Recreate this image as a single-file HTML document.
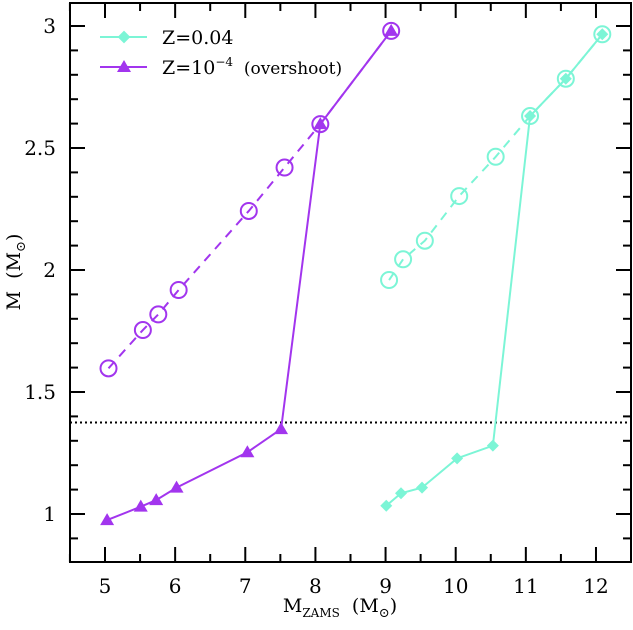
<!DOCTYPE html>
<html><head><meta charset="utf-8"><style>
html,body{margin:0;padding:0;background:#fff;}
svg{display:block;font-family:"DejaVu Serif","Liberation Serif",serif;}
</style></head><body>
<svg id="chart" width="633" height="630" viewBox="0 0 633 630" xmlns="http://www.w3.org/2000/svg">
<g id="axes"></g>
<g id="series"></g>
<g id="legend">
  <line x1="100" y1="37" x2="147" y2="37" stroke="#7cf5d6" stroke-width="2"/>
  <rect x="119.5" y="32.5" width="9" height="9" fill="#7cf5d6" transform="rotate(45 124 37)"/>
  <text x="162" y="44" font-size="19" fill="#000">Z=0.04</text>
  <line x1="100" y1="67" x2="147" y2="67" stroke="#a235ee" stroke-width="2"/>
  <polygon points="124,60 131,72 117,72" fill="#a235ee"/>
  <text x="162" y="74" font-size="19" fill="#000">Z=10<tspan font-size="12" dy="-8">−4</tspan><tspan dy="8" font-size="17" xml:space="preserve">  (overshoot)</tspan></text>
</g>
<text x="340" y="612" font-size="19" text-anchor="middle">M<tspan font-size="12" dy="5">ZAMS</tspan><tspan dy="-5" xml:space="preserve">  (M</tspan><tspan font-size="13" dy="5">⊙</tspan><tspan dy="-5">)</tspan></text>
<text x="0" y="0" font-size="19" text-anchor="middle" transform="translate(20,272) rotate(-90)">M <tspan xml:space="preserve"> (M</tspan><tspan font-size="13" dy="5">⊙</tspan><tspan dy="-5">)</tspan></text>
</svg>
<script>
const xTicks = [5,6,7,8,9,10,11,12];
const yTicks = [1,1.5,2,2.5,3];
const chandra = 1.375;
const hiX2 = [5.03,5.51,5.73,6.02,7.03,7.51,8.07,9.08];
const hiTri = [0.975,1.03,1.057,1.108,1.253,1.348,2.598,2.98];
const hiCircX = [5.05,5.54,5.76,6.05,7.05,7.56,8.07,9.08];
const hiCirc = [1.597,1.754,1.818,1.918,2.242,2.42,2.598,2.98];
const loDiaX = [9.01,9.22,9.52,10.02,10.53,11.06,11.57,12.09];
const loDia = [1.034,1.085,1.108,1.228,1.28,2.631,2.784,2.966];
const loCircX = [9.05,9.25,9.56,10.05,10.57,11.06,11.57,12.09];
const loCirc = [1.959,2.044,2.12,2.303,2.464,2.631,2.784,2.966];

const L=70,R=631,T=3,B=562;
const xs = v => 105 + (v-5)*70.14;
const ys = v => 514 - (v-1)*244;
const NS="http://www.w3.org/2000/svg";
function mk(tag, attrs, parent){const e=document.createElementNS(NS,tag);for(const k in attrs)e.setAttribute(k,attrs[k]);parent.appendChild(e);return e;}
const ax=document.getElementById('axes'), se=document.getElementById('series');
const frame=mk('rect',{x:L,y:T,width:R-L,height:B-T,fill:'none',stroke:'#000','stroke-width':2},ax);


for(let v=4.5; v<=12.31; v+=0.5){
  const x=xs(v), major=Math.abs(v-Math.round(v))<1e-6, len=major?15:8;
  mk('line',{x1:x,y1:B,x2:x,y2:B-len,stroke:'#000','stroke-width':2},ax);
  mk('line',{x1:x,y1:T,x2:x,y2:T+len,stroke:'#000','stroke-width':2},ax);
}
for(let i=8;i<=31;i++){
  const v=i/10, y=ys(v), major=(i%5===0), len=major?15:8;
  if(y<T+1||y>B-1) continue;
  mk('line',{x1:L,y1:y,x2:L+len,y2:y,stroke:'#000','stroke-width':2},ax);
  mk('line',{x1:R,y1:y,x2:R-len,y2:y,stroke:'#000','stroke-width':2},ax);
}
xTicks.forEach(v=>{const t=mk('text',{x:xs(v),y:593,'font-size':20,'text-anchor':'middle'},ax);t.textContent=v;

});
yTicks.forEach(v=>{const t=mk('text',{x:56,y:ys(v)+7,'font-size':20,'text-anchor':'end'},ax);t.textContent=v;

});
const ch=mk('line',{x1:L,y1:ys(chandra),x2:R,y2:ys(chandra),stroke:'#000','stroke-width':2,'stroke-dasharray':'2,3'},se);



function series(xa,ya,color,dash,name){
  const p=mk('polyline',{points:xa.map((x,i)=>xs(x)+','+ys(ya[i])).join(' '),fill:'none',stroke:color,'stroke-width':2,'stroke-dasharray':dash||'none'},se);
  
  
}
series(hiCircX,hiCirc,'#a235ee','9,7','line-z1e4-dashed');
series(loCircX,loCirc,'#7cf5d6','9,7','line-z004-dashed');
series(hiX2,hiTri,'#a235ee','','line-z1e4');
series(loDiaX,loDia,'#7cf5d6','','line-z004');
hiCircX.forEach((x,i)=>{const c=mk('circle',{cx:xs(x),cy:ys(hiCirc[i]),r:8,fill:'none',stroke:'#a235ee','stroke-width':2},se);

});
loCircX.forEach((x,i)=>{const c=mk('circle',{cx:xs(x),cy:ys(loCirc[i]),r:8,fill:'none',stroke:'#7cf5d6','stroke-width':2},se);

});
hiX2.forEach((x,i)=>{const cx=xs(x),cy=ys(hiTri[i]);const p=mk('polygon',{points:`${cx},${cy-7} ${cx+7},${cy+5} ${cx-7},${cy+5}`,fill:'#a235ee'},se);

});
loDiaX.forEach((x,i)=>{const cx=xs(x),cy=ys(loDia[i]);const p=mk('polygon',{points:`${cx},${cy-6} ${cx+6},${cy} ${cx},${cy+6} ${cx-6},${cy}`,fill:'#7cf5d6'},se);

});
</script>
</body></html>
